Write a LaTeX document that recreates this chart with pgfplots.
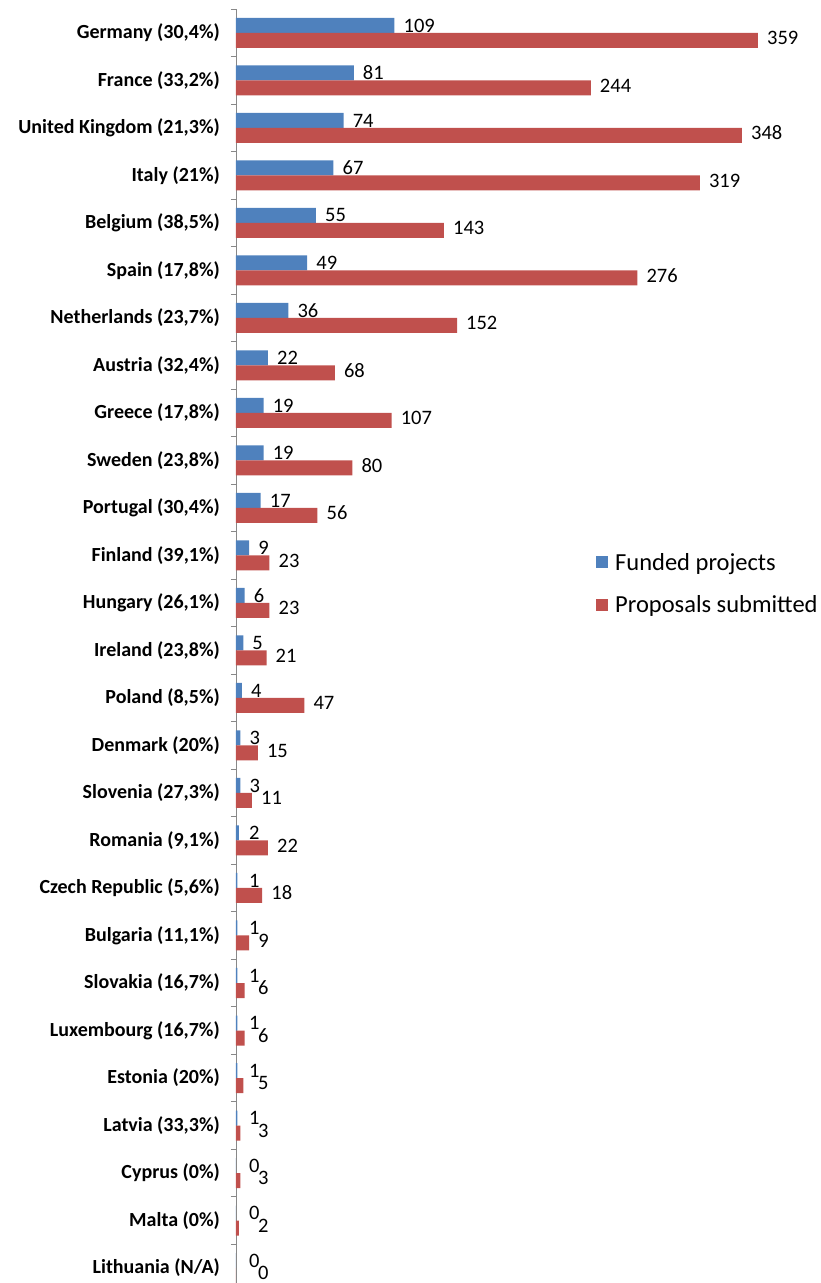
\documentclass[border=0pt]{standalone}
\usepackage{pgfplots}
\pgfplotsset{compat=1.18}
\usepackage{fontspec}
\setmainfont{Carlito}
\definecolor{fblue}{HTML}{4F81BD}
\definecolor{pred}{HTML}{C0504D}
\definecolor{axgray}{HTML}{888888}
\begin{document}
\begin{tikzpicture}
\begin{axis}[
  at={(236pt,0pt)}, anchor=south west,
  scale only axis,
  width=581.6pt, height=1273.76pt,
  xmin=0, xmax=400,
  ymin=-0.5, ymax=26.316,
  y dir=reverse,
  xbar, bar width=15pt,
  axis x line=none,
  axis y line*=left,
  axis line style={axgray, line width=0.8pt},
  ytick={0,...,26},
  yticklabels={{Germany (30,4\%)},{France (33,2\%)},{United Kingdom (21,3\%)},{Italy (21\%)},{Belgium (38,5\%)},{Spain (17,8\%)},{Netherlands (23,7\%)},{Austria (32,4\%)},{Greece (17,8\%)},{Sweden (23,8\%)},{Portugal (30,4\%)},{Finland (39,1\%)},{Hungary (26,1\%)},{Ireland (23,8\%)},{Poland (8,5\%)},{Denmark (20\%)},{Slovenia (27,3\%)},{Romania (9,1\%)},{Czech Republic (5,6\%)},{Bulgaria (11,1\%)},{Slovakia (16,7\%)},{Luxembourg (16,7\%)},{Estonia (20\%)},{Latvia (33,3\%)},{Cyprus (0\%)},{Malta (0\%)},{Lithuania (N/A)}},
  minor ytick={-0.5,0.5,...,25.5},
  major tick length=0pt,
  minor tick length=5pt,
  tick align=outside,
  minor tick style={axgray, line width=0.8pt},
  yticklabel style={font=\fontsize{20}{24}\selectfont\bfseries, inner sep=0pt, xshift=-16pt},
  /pgf/number format/assume math mode=true,
  nodes near coords,
  nodes near coords style={font=\fontsize{20.5}{24}\selectfont, anchor=west, inner sep=1pt, text=black},
  visualization depends on={x \as \xval},
  legend style={at={(0.619,0.549)}, anchor=west, draw=none, fill=none,
    font=\fontsize{24.5}{28}\selectfont, row sep=24pt, inner sep=0pt,
    nodes={inner xsep=7pt, inner ysep=0pt}},
  legend cell align=left,
  legend image code/.code={\fill[#1,draw=none] (0pt,-6pt) rectangle (12pt,6pt);},
]
\addplot[fill=fblue, draw=none, bar shift=7.5pt,
  every node near coord/.append style={xshift={max(8pt,12pt-1.454pt*\xval)}}] coordinates {
(109,0) (81,1) (74,2) (67,3) (55,4) (49,5) (36,6) (22,7) (19,8) (19,9) (17,10) (9,11) (6,12) (5,13) (4,14) (3,15) (3,16) (2,17) (1,18) (1,19) (1,20) (1,21) (1,22) (1,23) (0,24) (0,25) (0,26)};
\addplot[fill=pred, draw=none, bar shift=-7.5pt,
  every node near coord/.append style={xshift={max(8pt,21pt-1.454pt*\xval)}, yshift=2.5pt}] coordinates {
(359,0) (244,1) (348,2) (319,3) (143,4) (276,5) (152,6) (68,7) (107,8) (80,9) (56,10) (23,11) (23,12) (21,13) (47,14) (15,15) (11,16) (22,17) (18,18) (9,19) (6,20) (6,21) (5,22) (3,23) (3,24) (2,25) (0,26)};
\legend{Funded projects, Proposals submitted}
\end{axis}
\pgfresetboundingbox
\useasboundingbox (0,0) rectangle (820pt,1283pt);
\end{tikzpicture}
\end{document}
